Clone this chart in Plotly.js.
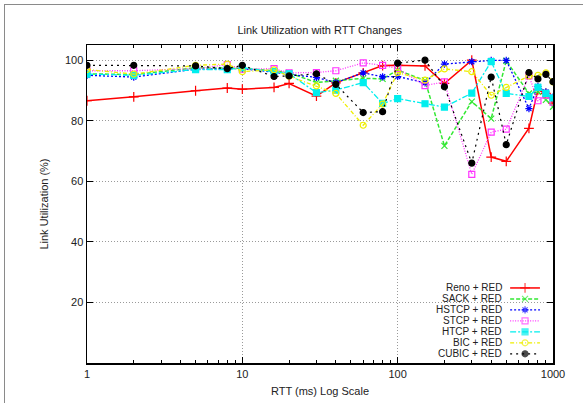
<!DOCTYPE html>
<html><head><meta charset="utf-8">
<script src="https://cdn.plot.ly/plotly-3.0.1.min.js"></script>
<style>
html,body{margin:0;padding:0;background:#fff;overflow:hidden}
#chart{position:absolute;left:0;top:0;width:583px;height:403px}
#frame{position:absolute;left:4px;top:4px;width:700px;height:600px;border:1px solid #8a8a8a;pointer-events:none}
</style>
</head><body>
<div id="chart"></div><div id="frame"></div>
<script>
const rtt = [1, 2, 5, 8, 10, 16, 20, 30, 40, 60, 80, 100, 150, 200, 300, 400, 500, 700, 800, 900, 1000];
const renoRed  = [86.6, 87.9, 89.9, 90.8, 90.4, 91.0, 92.3, 88.1, 92.5, 95.8, 98.2, 98.3, 98.1, 92.3, 100.0, 68.0, 66.6, 77.5, 90.2, 89.0, 85.8];
const sackRed  = [95.5, 95.2, 97.5, 97.5, 97.3, 96.5, 95.8, 92.6, 93.2, 94.0, 93.8, 96.7, 93.3, 71.7, 86.3, 80.7, 99.8, 89.0, 89.6, 86.9, 84.6];
const hstcpRed = [95.0, 94.4, 97.0, 97.3, 97.2, 96.0, 95.3, 94.3, 92.6, 95.8, 94.5, 94.6, 92.5, 98.7, 99.5, 99.9, 99.9, 84.0, 91.3, 89.5, 87.8];
const stcpRed  = [96.5, 96.5, 97.2, 98.5, 97.0, 97.2, 95.8, 95.9, 96.5, 99.1, 98.3, 97.2, 91.6, 92.8, 62.3, 76.2, 77.2, 94.8, 86.6, 88.4, 86.1];
const htcpRed  = [95.4, 95.0, 96.9, 96.9, 97.5, 96.2, 95.5, 89.3, 90.1, 92.6, 85.7, 87.3, 85.6, 84.5, 89.1, 99.5, 89.0, 88.0, 91.0, 89.0, 87.5];
const bicRed   = [96.9, 95.4, 98.3, 98.7, 96.2, 96.8, 94.7, 91.5, 89.0, 78.5, 85.5, 95.9, 93.4, 97.1, 96.2, 88.4, 91.0, 94.8, 95.0, 95.8, 92.8];
const cubicRed = [98.3, 98.3, 98.1, 97.2, 98.3, 94.6, 94.8, 95.5, 92.0, 82.7, 83.0, 99.0, 100.0, 91.2, 66.0, 94.4, 72.1, 95.9, 93.8, 95.3, 92.9];
const seriesNames = ["Reno + RED", "SACK + RED", "HSTCP + RED", "STCP + RED", "HTCP + RED", "BIC + RED", "CUBIC + RED"];
const xTickVals = [1, 10, 100, 1000];
const xTickText = ["1", "10", "100", "1000"];
const yTickVals = [20, 40, 60, 80, 100];
const yTickText = ["20", "40", "60", "80", "100"];

const allSeries = [renoRed, sackRed, hstcpRed, stcpRed, htcpRed, bicRed, cubicRed];
const styles = [
  {color:'#ff0000', dash:'solid',               symbol:'cross-thin-open', size:7, lw:1.5},
  {color:'#33e833', dash:'4px,2px',             symbol:'x-thin-open',     size:6, lw:1.5},
  {color:'#0000ff', dash:'2px,2px',             symbol:'asterisk-open',   size:6, lw:1.3},
  {color:'#ff33ff', dash:'1px,1.5px',           symbol:'square-open',     size:6, lw:1.3},
  {color:'#00eeee', dash:'6px,2px,2px,2px',     symbol:'square',          size:6, lw:1.3},
  {color:'#eeee00', dash:'4px,2px,1px,2px',     symbol:'circle-open',     size:6, lw:1.3},
  {color:'#000000', dash:'2px,4px',             symbol:'circle',          size:6, lw:1.2}
];

const traces = [];
allSeries.forEach((ys, i) => {
  const s = styles[i];
  traces.push({
    x: rtt, y: ys, type:'scatter', mode:'lines+markers', name: seriesNames[i],
    line:{color:s.color, width:s.lw, dash:s.dash},
    marker:{color:s.color, symbol:s.symbol, size:s.size, line:{color:s.color, width:1.2}},
    showlegend:false, cliponaxis:true
  });
});

// custom gnuplot-style legend (text right-aligned, sample on the right) on an overlay axis
const L = {textX:0.893, x0:0.908, x1:0.972, y0:0.236, dy:0.0345};
const annotations = [];
seriesNames.forEach((n, i) => {
  const s = styles[i];
  const yy = L.y0 - i*L.dy;
  traces.push({
    x:[L.x0, (L.x0+L.x1)/2, L.x1], y:[yy, yy, yy], xaxis:'x2', yaxis:'y2',
    type:'scatter', mode:'lines+markers', showlegend:false, hoverinfo:'skip',
    line:{color:s.color, width:s.lw, dash:s.dash},
    marker:{color:s.color, symbol:s.symbol, size:[0, s.size, 0], line:{color:s.color, width:1.2}}
  });
  annotations.push({xref:'paper', yref:'paper', x:L.textX, y:yy, xanchor:'right', yanchor:'middle',
    text:n, showarrow:false, borderpad:0,
    font:{family:'Liberation Sans, Arial, sans-serif', size:10, color:'#222'}});
});

const layout = {
  width:583, height:403,
  margin:{l:87, r:30, t:45, b:40},
  paper_bgcolor:'#ffffff', plot_bgcolor:'#ffffff',
  font:{family:'Liberation Sans, Arial, sans-serif', size:11, color:'#222'},
  title:{text:'Link Utilization with RTT Changes', x:0.5485, xanchor:'center', y:0.925, yanchor:'middle',
         font:{size:11, color:'#222'}},
  showlegend:false,
  xaxis:{type:'log', range:[0, 3], tickvals:xTickVals, ticktext:xTickText,
    ticks:'inside', ticklen:6, tickcolor:'#000', tickwidth:1,
    showline:true, linecolor:'#000', linewidth:1.5, mirror:'ticks',
    showgrid:true, gridcolor:'#9a9a9a', griddash:'1px,2px', gridwidth:1, zeroline:false,
    minor:{ticks:'inside', ticklen:3, tickcolor:'#000', dtick:'D1', showgrid:false},
    title:{text:'RTT (ms) Log Scale', standoff:8, font:{size:11}}, tickfont:{size:11}},
  yaxis:{range:[0, 105], tickvals:yTickVals, ticktext:yTickText,
    ticks:'inside', ticklen:6, tickcolor:'#000', tickwidth:1,
    showline:true, linecolor:'#000', linewidth:1.5, mirror:'ticks',
    showgrid:true, gridcolor:'#9a9a9a', griddash:'1px,2px', gridwidth:1, zeroline:false,
    title:{text:'Link Utilization (%)', standoff:14, font:{size:11}}, tickfont:{size:11}},
  xaxis2:{overlaying:'x', range:[0,1], visible:false, fixedrange:true},
  yaxis2:{overlaying:'y', range:[0,1], visible:false, fixedrange:true},
  annotations: annotations
};

Plotly.newPlot('chart', traces, layout, {staticPlot:true, displayModeBar:false});
</script>
</body></html>
